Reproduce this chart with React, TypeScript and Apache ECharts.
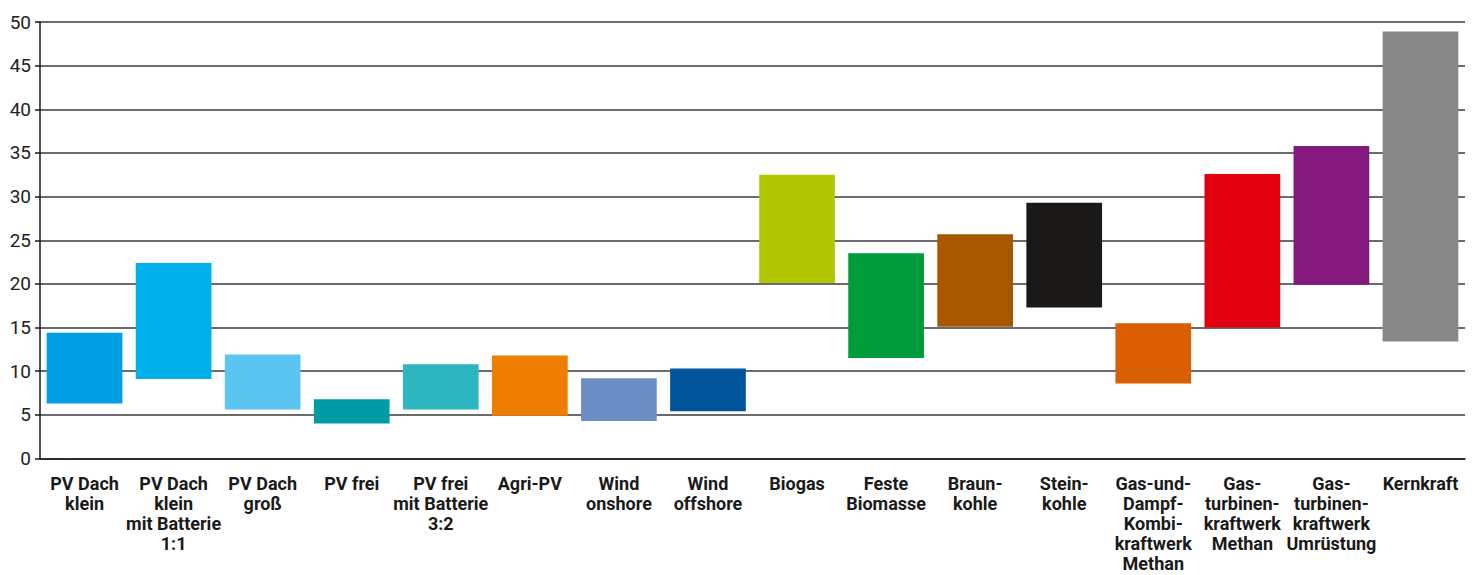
import React, { useEffect, useRef } from "react";
import * as echarts from "echarts";

const categories = [
  "PV Dach\nklein",
  "PV Dach\nklein\nmit Batterie\n1:1",
  "PV Dach\ngroß",
  "PV frei",
  "PV frei\nmit Batterie\n3:2",
  "Agri-PV",
  "Wind\nonshore",
  "Wind\noffshore",
  "Biogas",
  "Feste\nBiomasse",
  "Braun-\nkohle",
  "Stein-\nkohle",
  "Gas-und-\nDampf-\nKombi-\nkraftwerk\nMethan",
  "Gas-\nturbinen-\nkraftwerk\nMethan",
  "Gas-\nturbinen-\nkraftwerk\nUmrüstung",
  "Kernkraft",
];

const lowValues = [6.3, 9.1, 5.6, 4.0, 5.6, 4.9, 4.3, 5.4, 20.1, 11.5, 15.1, 17.3, 8.6, 15.0, 19.9, 13.4];
const highValues = [14.4, 22.4, 11.9, 6.8, 10.8, 11.8, 9.2, 10.3, 32.5, 23.5, 25.7, 29.3, 15.5, 32.6, 35.8, 48.9];

const barColors = [
  "#009FE3",
  "#00B0EB",
  "#5BC5F2",
  "#009BA4",
  "#2DB6C0",
  "#EF7D00",
  "#6D8EC4",
  "#00559B",
  "#B1C800",
  "#009C3C",
  "#A65700",
  "#1A1918",
  "#DA5F02",
  "#E3000F",
  "#841A7E",
  "#878787",
];

const yTicks = { min: 0, max: 50, interval: 5 };

export default function App() {
  const ref = useRef<HTMLDivElement>(null);

  useEffect(() => {
    if (!ref.current) return;
    const chart = echarts.init(ref.current, undefined, { renderer: "svg" });
    const font = "Roboto, 'DejaVu Sans', sans-serif";
    chart.setOption({
      animation: false,
      grid: { left: 40, right: 11, top: 22, bottom: 116.5, outerBoundsMode: "none", containLabel: false },
      xAxis: {
        type: "category",
        data: categories,
        axisLine: { lineStyle: { color: "#1a1a1a", width: 1.5 } },
        axisTick: { alignWithLabel: true, length: 8, lineStyle: { color: "#1a1a1a", width: 1.5 } },
        axisLabel: {
          interval: 0,
          margin: 14.5,
          fontFamily: font,
          fontWeight: "bold",
          fontSize: 18,
          lineHeight: 20,
          color: "#1a1a1a",
          align: "center",
        },
      },
      yAxis: {
        type: "value",
        min: yTicks.min,
        max: yTicks.max,
        interval: yTicks.interval,
        axisLine: { show: true, lineStyle: { color: "#1a1a1a", width: 1.5 } },
        axisTick: { show: true, length: 5, lineStyle: { color: "#1a1a1a", width: 1.5 } },
        axisLabel: { fontFamily: font, fontSize: 19, color: "#222", margin: 9 },
        splitLine: { show: true, lineStyle: { color: "#3a3a3a", width: 1.5 } },
      },
      series: [
        {
          type: "bar",
          stack: "range",
          data: lowValues,
          itemStyle: { color: "transparent" },
          barCategoryGap: "15%",
          silent: true,
        },
        {
          type: "bar",
          stack: "range",
          data: highValues.map((h, i) => ({
            value: +(h - lowValues[i]).toFixed(2),
            itemStyle: { color: barColors[i] },
          })),
          barCategoryGap: "15%",
        },
      ],
    });
    return () => chart.dispose();
  }, []);

  return (
    <div
      ref={ref}
      style={{ position: "fixed", left: 0, top: 0, width: 1476, height: 575, background: "#fff" }}
    />
  );
}
